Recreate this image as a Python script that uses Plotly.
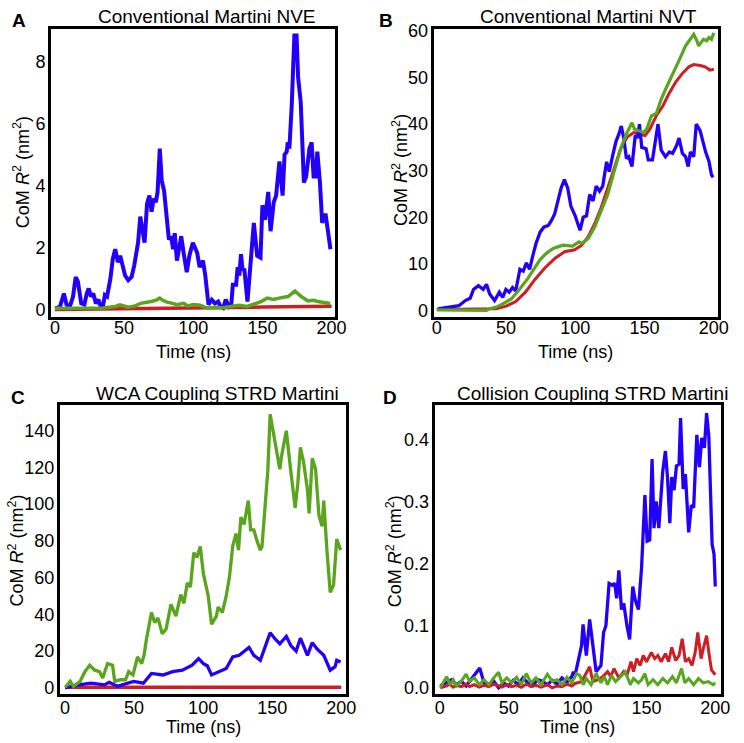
import plotly.graph_objects as go

# ---------------- data (time in ns, CoM R^2 in nm^2) ----------------
A_blue = [(0.2, 0.03), (3.7, 0.1), (6.5, 0.52), (8.4, 0.16), (10.8, 0.1), (13.1, 0.42), (15.0, 1.05),
          (16.6, 0.9), (19.0, 0.2), (21.3, 0.16), (23.0, 0.52), (24.4, 0.68), (26.0, 0.42), (27.7, 0.52),
          (29.6, 0.2), (31.4, 0.32), (33.1, 0.1), (34.7, 0.1), (36.1, 0.47), (37.7, 0.42), (40.1, 1.0),
          (41.8, 1.63), (43.6, 1.95), (45.5, 1.53), (47.2, 1.74), (48.8, 1.37), (50.7, 1.1), (53.0, 0.95),
          (55.4, 1.05), (57.3, 1.42), (58.9, 1.84), (60.1, 2.16), (61.7, 3.0), (63.1, 2.58), (64.8, 2.16),
          (66.6, 3.42), (68.3, 3.68), (69.9, 3.16), (71.3, 3.58), (73.0, 3.47), (74.2, 3.79), (75.8, 5.2),
          (77.2, 4.16), (78.9, 3.84), (80.5, 3.2), (82.4, 2.26), (84.0, 2.37), (85.4, 1.95), (86.6, 2.47),
          (88.2, 1.58), (90.1, 2.05), (91.3, 2.37), (93.0, 1.84), (95.3, 1.21), (97.2, 1.74), (99.7, 2.16),
          (102.8, 1.84), (104.6, 1.37), (107.0, 1.58), (108.7, 1.1), (111.0, 0.16), (113.4, 0.32),
          (115.7, 0.2), (118.0, 0.26), (119.7, 0.1), (121.6, 0.05), (123.5, 0.32), (125.8, 0.1),
          (127.5, 0.16), (128.6, 0.8), (131.0, 0.8), (132.1, 1.37), (133.3, 1.1), (134.5, 1.79),
          (135.7, 1.26), (136.9, 1.32), (139.2, 0.26), (141.5, 1.74), (143.8, 2.8), (146.2, 1.74),
          (148.6, 1.68), (150.0, 3.37), (151.9, 2.9), (154.2, 3.8), (155.9, 2.53), (158.2, 3.47),
          (159.9, 3.68), (162.3, 4.78), (164.6, 3.68), (166.0, 5.0), (167.6, 5.1), (168.3, 5.4),
          (169.5, 5.2), (171.2, 6.6), (173.1, 8.85), (174.7, 8.85), (175.8, 7.5), (177.7, 6.7),
          (180.0, 4.1), (181.6, 4.3), (184.0, 5.2), (185.6, 5.4), (187.0, 4.3), (188.5, 4.3),
          (189.7, 5.1), (191.6, 4.1), (193.2, 2.8), (195.6, 3.1), (197.3, 2.6), (199.2, 1.95)]
A_green = [(0, 0.04), (20, 0.04), (35, 0.05), (43.6, 0.1), (47, 0.15), (53, 0.08), (58, 0.12), (62, 0.2),
           (66, 0.22), (69.5, 0.26), (73, 0.3), (75.8, 0.37), (78, 0.3), (81, 0.24), (85, 0.2), (88, 0.16),
           (93, 0.2), (96, 0.12), (100, 0.16), (105, 0.14), (110, 0.05), (115, 0.07), (121.6, 0.06),
           (127, 0.1), (133, 0.14), (139, 0.1), (145, 0.2), (149, 0.26), (153.5, 0.37), (158, 0.33),
           (162, 0.37), (168.5, 0.42), (173.5, 0.6), (178, 0.42), (183, 0.28), (187, 0.3), (190, 0.26),
           (195, 0.24), (199, 0.2)]
A_red = [(0, 0.0), (50, 0.02), (100, 0.05), (150, 0.08), (200, 0.11)]

B_blue = [(0.7, 0.3), (8.9, 0.7), (16.0, 1.0), (20.6, 2.1), (24.1, 2.6), (26.5, 4.5), (30.0, 5.3),
          (33.5, 4.5), (35.9, 5.6), (38.2, 3.5), (41.7, 2.1), (45.2, 3.9), (47.6, 2.8), (49.9, 4.5),
          (52.3, 3.9), (54.7, 4.9), (57.0, 4.2), (60.0, 8.8), (62.4, 8.4), (64.7, 10.2), (67.0, 8.8),
          (69.8, 12.3), (71.7, 14.4), (74.6, 16.8), (77.4, 17.9), (80.4, 18.2), (82.8, 19.3), (85.1, 20.7),
          (87.5, 23.5), (89.8, 26.3), (92.1, 28.1), (94.5, 26.3), (96.8, 22.4), (99.9, 20.3), (103.4, 17.2),
          (105.7, 20.0), (108.1, 20.3), (110.4, 24.9), (112.8, 23.5), (115.1, 26.7), (117.5, 25.6),
          (119.8, 26.7), (122.6, 31.9), (124.5, 29.8), (126.8, 33.0), (129.2, 36.1), (131.5, 37.9),
          (133.2, 39.6), (135.0, 37.0), (136.9, 32.6), (138.6, 33.0), (140.9, 30.9), (143.3, 37.6),
          (144.9, 37.0), (146.3, 40.0), (148.0, 35.0), (151.1, 34.7), (152.7, 32.3), (155.7, 32.3),
          (157.4, 36.1), (159.7, 40.0), (162.0, 34.4), (165.1, 33.0), (167.9, 34.0), (170.2, 33.7),
          (173.1, 35.4), (174.9, 37.0), (177.3, 33.7), (179.6, 33.0), (181.5, 30.9), (183.1, 34.0),
          (185.5, 33.0), (187.3, 40.0), (190.1, 38.6), (192.5, 35.4), (194.1, 34.0), (196.5, 32.0),
          (198.3, 29.1), (199.5, 28.6)]
B_red = [(0, 0.2), (36, 0.2), (43, 0.35), (50, 0.9), (57, 1.9), (64, 3.9), (71, 6.7), (78, 9.1),
         (85.4, 11.2), (92.3, 12.6), (99.6, 13.0), (104.6, 14.0), (109.3, 15.8), (114, 18.6), (118.7, 22.1),
         (123.4, 26.3), (128, 30.5), (132.7, 34.7), (137.4, 37.2), (142.1, 38.2), (146.8, 37.9),
         (150.3, 37.5), (153.8, 38.9), (158.5, 41.8), (163.2, 43.9), (167.9, 46.7), (172.6, 49.1),
         (177.3, 50.9), (182, 52.3), (185.5, 52.8), (190.2, 52.6), (193.7, 52.3), (197.2, 51.6), (200, 51.8)]
B_green = [(0, 0.1), (35.9, 0.0), (37.7, 0.3), (43, 0.7), (47.6, 1.4), (54, 2.5), (59.6, 4.5), (65.4, 6.7),
           (70, 8.8), (74.6, 10.9), (79.3, 12.3), (84, 13.3), (91, 14.0), (98, 13.8), (102.7, 14.7),
           (104.6, 14.4), (109.3, 15.4), (114, 17.9), (118.7, 21.4), (123.4, 24.9), (128, 29.8),
           (132.7, 34.7), (137.4, 38.2), (140.9, 40.3), (142.8, 38.9), (145.6, 38.6), (149.1, 38.2),
           (151.5, 38.9), (155, 41.8), (158.5, 42.3), (162, 45.3), (165.5, 47.7), (170.2, 50.9),
           (174.9, 53.7), (179.6, 56.8), (183.1, 58.2), (185.5, 59.3), (187.8, 57.9), (189, 56.8),
           (192.5, 58.2), (194.8, 57.9), (196.5, 58.6), (198.3, 58.2), (200, 59.6)]

C_blue = [(0.2, 0.0), (9.7, 1.6), (19.0, 2.5), (28.5, 1.6), (32.0, 3.0), (37.9, 0.8), (49.7, 3.5),
          (56.7, 2.5), (62.6, 7.8), (70.9, 7.0), (77.9, 8.8), (85.0, 9.6), (92.0, 12.3), (96.7, 15.9),
          (100.2, 13.2), (103.0, 12.0), (106.1, 7.0), (112.0, 8.8), (116.7, 10.5), (121.4, 16.8),
          (126.1, 17.7), (133.2, 22.0), (136.7, 17.7), (141.4, 15.0), (145.0, 23.0), (148.5, 30.0),
          (152.0, 26.7), (155.5, 24.0), (160.2, 28.0), (163.5, 23.0), (167.3, 20.0), (170.4, 27.0),
          (175.5, 17.7), (179.0, 24.6), (182.6, 21.0), (187.3, 17.7), (192.0, 9.6), (195.5, 11.5),
          (196.7, 15.0), (199.5, 14.0)]
C_green = [(0.2, 0.3), (3.8, 3.5), (6.1, 0.8), (10.9, 3.5), (14.4, 8.8), (17.9, 12.3), (21.5, 9.6),
           (25.0, 8.8), (27.3, 5.3), (30.8, 13.2), (34.4, 12.3), (36.0, 3.5), (40.2, 4.4), (43.8, 4.4),
           (46.1, 8.8), (49.2, 7.0), (52.5, 16.8), (55.5, 13.2), (57.2, 17.7), (59.0, 26.7), (62.6, 41.0),
           (64.9, 35.5), (67.3, 38.0), (70.4, 29.4), (73.2, 32.0), (76.7, 45.4), (80.3, 39.0), (83.8, 50.8),
           (86.1, 46.0), (88.5, 57.0), (90.8, 55.0), (93.2, 73.6), (95.5, 71.0), (97.9, 77.0), (100.2, 62.0),
           (103.7, 50.0), (106.1, 34.6), (109.6, 39.0), (110.8, 44.0), (113.9, 41.0), (116.7, 50.0),
           (119.0, 60.0), (121.4, 77.0), (123.8, 84.0), (125.6, 75.0), (127.3, 93.0), (129.6, 89.0),
           (132.7, 102.0), (134.4, 86.0), (136.7, 86.0), (139.0, 80.0), (141.4, 75.0), (142.6, 77.0),
           (145.0, 104.0), (146.8, 118.0), (148.5, 149.0), (150.8, 139.0), (153.1, 130.0), (155.5, 119.0),
           (156.7, 126.0), (160.2, 140.0), (163.3, 119.0), (166.6, 98.0), (168.5, 111.0), (170.4, 131.0),
           (172.7, 123.0), (175.5, 108.0), (176.7, 95.0), (179.0, 125.0), (181.4, 119.0), (183.8, 94.0),
           (186.1, 88.0), (187.3, 102.0), (189.6, 75.0), (192.0, 52.0), (194.4, 56.0), (196.7, 81.0),
           (199.5, 75.0)]
C_red = [(0, 0.3), (100, 0.3), (200, 0.3)]

D_blue = [(0.3, 0.003), (5.0, 0.008), (8.5, 0.013), (12.1, 0.005), (15.6, 0.0105), (19.1, 0.003),
          (22.7, 0.013), (26.2, 0.024), (29.0, 0.032), (32.1, 0.008), (35.6, 0.005), (39.2, 0.0105),
          (42.7, 0.0), (46.3, 0.008), (49.8, 0.003), (53.3, 0.012), (56.9, 0.005), (60.4, 0.016),
          (63.9, 0.008), (67.5, 0.004), (71.0, 0.013), (74.6, 0.0105), (78.1, 0.005), (81.6, 0.012),
          (85.2, 0.006), (88.7, 0.016), (92.3, 0.009), (95.8, 0.018), (97.0, 0.026), (98.2, 0.02),
          (100.5, 0.047), (102.9, 0.068), (104.0, 0.102), (106.4, 0.052), (108.8, 0.11), (111.1, 0.073),
          (113.5, 0.026), (117.0, 0.036), (118.9, 0.089), (120.6, 0.1), (122.9, 0.168), (125.3, 0.165),
          (127.0, 0.168), (128.4, 0.144), (130.0, 0.189), (131.9, 0.126), (133.5, 0.136), (135.9, 0.1),
          (137.8, 0.078), (140.1, 0.163), (141.8, 0.142), (144.2, 0.126), (146.5, 0.194), (148.9, 0.31),
          (150.5, 0.236), (152.4, 0.238), (154.1, 0.368), (155.5, 0.257), (157.1, 0.3), (159.0, 0.257),
          (160.2, 0.305), (161.8, 0.347), (163.8, 0.381), (165.4, 0.336), (167.0, 0.265), (168.4, 0.339),
          (170.1, 0.318), (171.8, 0.357), (173.7, 0.36), (174.8, 0.434), (176.7, 0.32), (178.3, 0.344),
          (180.7, 0.25), (182.6, 0.294), (184.3, 0.29), (186.6, 0.407), (188.5, 0.355), (190.2, 0.402),
          (192.1, 0.386), (193.7, 0.442), (195.3, 0.405), (196.7, 0.31), (197.7, 0.231), (199.1, 0.215),
          (200.0, 0.163)]
D_red = [(0.3, 0.0), (5.0, 0.003), (7.3, 0.006), (9.7, 0.001), (12.1, 0.004), (15.6, 0.002), (19.1, 0.006),
         (21.5, 0.002), (25.0, 0.005), (28.6, 0.001), (32.1, 0.004), (35.6, 0.002), (39.2, 0.006),
         (42.7, 0.003), (45.1, 0.001), (48.6, 0.005), (52.2, 0.002), (55.7, 0.004), (59.2, 0.001),
         (62.8, 0.006), (66.3, 0.002), (69.8, 0.004), (73.4, 0.001), (78.1, 0.005), (81.6, 0.0),
         (85.2, 0.003), (88.7, 0.002), (92.3, 0.006), (95.8, 0.003), (98.2, 0.007), (102.9, 0.01),
         (108.8, 0.034), (111.1, 0.01), (114.7, 0.013), (118.3, 0.018), (121.8, 0.026), (124.1, 0.018),
         (126.5, 0.031), (130.0, 0.016), (133.5, 0.026), (135.9, 0.02), (138.8, 0.042), (140.6, 0.026),
         (143.0, 0.047), (145.4, 0.036), (147.7, 0.052), (150.1, 0.042), (153.6, 0.057), (156.0, 0.047),
         (158.3, 0.052), (160.7, 0.042), (163.8, 0.055), (166.1, 0.042), (168.4, 0.065), (171.3, 0.044),
         (173.7, 0.052), (176.0, 0.079), (178.3, 0.042), (180.7, 0.047), (183.1, 0.036), (185.4, 0.057),
         (187.3, 0.089), (189.7, 0.047), (191.3, 0.063), (193.7, 0.084), (195.3, 0.057), (197.2, 0.029),
         (200.0, 0.021)]
D_green = [(0.3, 0.0), (5.0, 0.018), (7.3, 0.005), (9.7, 0.013), (12.1, 0.003), (15.6, 0.0105), (19.1, 0.022),
           (21.5, 0.0105), (25.0, 0.016), (28.6, 0.005), (32.1, 0.013), (35.6, 0.005), (39.2, 0.016),
           (42.7, 0.025), (45.1, 0.008), (48.6, 0.016), (52.2, 0.008), (55.7, 0.017), (59.2, 0.005),
           (62.8, 0.023), (66.3, 0.008), (69.8, 0.016), (73.4, 0.005), (78.1, 0.022), (81.6, 0.0105),
           (85.2, 0.013), (88.7, 0.005), (92.3, 0.017), (95.8, 0.008), (99.3, 0.023), (101.7, 0.02),
           (104.1, 0.005), (106.4, 0.015), (109.9, 0.005), (113.5, 0.023), (117.0, 0.008), (119.4, 0.018),
           (121.8, 0.005), (124.6, 0.02), (127.6, 0.01), (131.2, 0.018), (134.7, 0.026), (138.3, 0.005),
           (140.6, 0.015), (144.2, 0.008), (146.5, 0.013), (148.9, 0.023), (151.2, 0.005), (154.8, 0.013),
           (158.3, 0.005), (161.9, 0.015), (165.4, 0.008), (168.9, 0.018), (171.8, 0.008), (175.5, 0.031),
           (177.9, 0.008), (180.7, 0.015), (184.3, 0.005), (187.8, 0.015), (191.3, 0.008), (194.9, 0.01),
           (198.4, 0.005), (200.0, 0.008)]

titles = ["Conventional Martini NVE", "Conventional Martini NVT",
          "WCA Coupling STRD Martini", "Collision Coupling STRD Martini"]
letters = ["A", "B", "C", "D"]
x_ticks = [0, 50, 100, 150, 200]
A_yticks = [0, 2, 4, 6, 8]
B_yticks = [0, 10, 20, 30, 40, 50, 60]
C_yticks = [0, 20, 40, 60, 80, 100, 120, 140]
D_yticks = [0.0, 0.1, 0.2, 0.3, 0.4]

# ---------------- styling ----------------
W, H = 744, 743
BLUE = "rgb(35,0,250)"
RED = "rgb(205,30,35)"
GREEN = "rgb(90,165,30)"
FONT = "Liberation Sans, Arial, sans-serif"


def px(x):
    return x / W


def py(y):
    return 1 - y / H


panels = [
    # frame (left, right, top, bottom) in px, x range, y range, yticks, tick format, series, x-label standoff
    dict(frame=(50, 339, 22, 315), xr=[-2.8, 202.2], yr=[-0.25, 9.07], yt=A_yticks, fmt="d", xso=-8,
         series=[(A_blue, BLUE, 4), (A_red, RED, 3.5), (A_green, GREEN, 3.5)]),
    dict(frame=(440, 730, 22, 315), xr=[-2.2, 203.2], yr=[-1.5, 60.5], yt=B_yticks, fmt="d", xso=-8,
         series=[(B_red, RED, 3), (B_blue, BLUE, 3.3), (B_green, GREEN, 3.2)]),
    dict(frame=(59, 351, 404, 697), xr=[-3.7, 203.7], yr=[-3.2, 154], yt=C_yticks, fmt="d", xso=-4,
         series=[(C_red, RED, 3.3), (C_blue, BLUE, 3.3), (C_green, GREEN, 3.3)]),
    dict(frame=(441, 733, 404, 697), xr=[-3.7, 204.3], yr=[-0.0094, 0.455], yt=D_yticks, fmt=".1f", xso=-4,
         series=[(D_blue, BLUE, 3.3), (D_red, RED, 3), (D_green, GREEN, 3)]),
]

fig = go.Figure()
layout = dict(width=W, height=H, margin=dict(l=0, r=0, t=0, b=0), paper_bgcolor="white",
              plot_bgcolor="white", showlegend=False, font=dict(family=FONT, color="black"))

for i, p in enumerate(panels):
    n = "" if i == 0 else str(i + 1)
    l, r, t, b = p["frame"]
    layout["xaxis" + n] = dict(domain=[px(l), px(r)], range=p["xr"], tickvals=x_ticks,
                               showgrid=False, zeroline=False, showline=True, mirror=True,
                               linewidth=3, linecolor="black", ticks="", ticklabelstandoff=p["xso"],
                               tickfont=dict(size=18, family=FONT, color="black"),
                               anchor="y" + n, fixedrange=True)
    layout["yaxis" + n] = dict(domain=[py(b), py(t)], range=p["yr"], tickvals=p["yt"],
                               tickformat=p["fmt"], showgrid=False, zeroline=False, showline=True,
                               mirror=True, linewidth=3, linecolor="black", ticks="",
                               ticklabelstandoff=-1,
                               tickfont=dict(size=18, family=FONT, color="black"),
                               anchor="x" + n, fixedrange=True)
    for data, col, lw in p["series"]:
        xs = [d[0] for d in data]
        ys = [d[1] for d in data]
        fig.add_trace(go.Scatter(x=xs, y=ys, mode="lines", line=dict(color=col, width=lw),
                                 xaxis="x" + n, yaxis="y" + n, hoverinfo="skip"))

ann = []
title_pos = [(209, 10), (598, 10), (220, 392), (602, 392)]
letter_pos = [(17, 14), (391, 14), (16, 396), (395, 396)]
xlab_pos = [(195, 350), (585, 350), (205, 731), (587, 731)]
ylab_pos = [(20, 168), (406, 165), (15, 552), (400, 552)]
for i in range(4):
    ann.append(dict(x=px(title_pos[i][0]), y=py(title_pos[i][1]), xref="paper", yref="paper",
                    text=titles[i], showarrow=False, font=dict(size=19, family=FONT, color="black"),
                    xanchor="center", yanchor="middle"))
    ann.append(dict(x=px(letter_pos[i][0]), y=py(letter_pos[i][1]), xref="paper", yref="paper",
                    text="<b>" + letters[i] + "</b>", showarrow=False,
                    font=dict(size=19, family=FONT, color="black"), xanchor="center", yanchor="middle"))
    ann.append(dict(x=px(xlab_pos[i][0]), y=py(xlab_pos[i][1]), xref="paper", yref="paper",
                    text="Time (ns)", showarrow=False, font=dict(size=18, family=FONT, color="black"),
                    xanchor="center", yanchor="middle"))
    ann.append(dict(x=px(ylab_pos[i][0]), y=py(ylab_pos[i][1]), xref="paper", yref="paper",
                    text="CoM <i>R</i><sup>2</sup> (nm<sup>2</sup>)", showarrow=False, textangle=-90,
                    font=dict(size=18, family=FONT, color="black"), xanchor="center", yanchor="middle"))
layout["annotations"] = ann
fig.update_layout(**layout)
fig.write_html("out.html", config={"displayModeBar": False},
               post_script="document.body.style.margin='0';document.body.style.padding='0';")
